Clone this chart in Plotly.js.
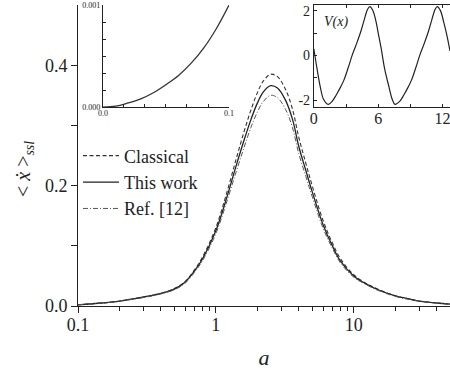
<!DOCTYPE html>
<html><head><meta charset="utf-8">
<script src="https://cdn.plot.ly/plotly-3.0.1.min.js"></script>
<style>html,body{margin:0;padding:0;background:#fff}</style>
</head><body>
<div id="chart" style="width:450px;height:373px"></div>
<script>
// Main curve: drift velocity vs a
var aVals = [0.1,0.15,0.2,0.3,0.4,0.5,0.6,0.7,0.8,1.0,1.2,1.4,1.6,1.8,2.0,2.2,2.5,2.8,3.2,3.6,4.0,4.5,5.0,6.0,7.0,8.0,10,12,15,20,25,30,40,50];
var classical = [0.002,0.005,0.008,0.015,0.021,0.029,0.041,0.060,0.081,0.130,0.188,0.243,0.289,0.326,0.354,0.373,0.385,0.381,0.360,0.327,0.280,0.237,0.200,0.142,0.105,0.079,0.052,0.039,0.028,0.017,0.012,0.008,0.005,0.003];
var thisWork  = [0.002,0.005,0.008,0.015,0.021,0.028,0.040,0.058,0.078,0.125,0.180,0.232,0.275,0.310,0.337,0.355,0.366,0.362,0.342,0.310,0.265,0.225,0.190,0.135,0.100,0.075,0.050,0.038,0.027,0.017,0.012,0.008,0.005,0.003];
var ref12     = [0.002,0.005,0.008,0.014,0.020,0.027,0.038,0.056,0.075,0.120,0.173,0.222,0.263,0.297,0.322,0.339,0.350,0.346,0.327,0.296,0.253,0.215,0.182,0.129,0.096,0.072,0.048,0.037,0.026,0.016,0.011,0.008,0.005,0.003];
var seriesNames = ["Classical","This work","Ref. [12]"];

// Inset 1 (small-a behaviour)
var inset1X = [0,0.01,0.02,0.03,0.04,0.05,0.06,0.07,0.08,0.09,0.1];
var inset1Y = [0,0.000008,0.00004,0.00008,0.00014,0.00022,0.00031,0.00043,0.00058,0.00077,0.001];

// Inset 2 (potential V(x))
var potX = [0,0.3,0.6,0.9,1.34,1.7,2.1,2.5,2.8,3.2,3.6,4.0,4.4,4.7,5.0,5.22,5.5,5.8,6.0,6.28,6.6,7.0,7.3,7.56,8.0,8.4,8.8,9.1,9.5,9.9,10.3,10.7,11.0,11.3,11.5,11.8,12.1,12.4,12.69];
var potV = [0.3,-0.6,-1.4,-1.95,-2.18,-2.05,-1.75,-1.4,-1.1,-0.55,0.05,0.55,1.1,1.6,2.05,2.18,2.0,1.5,1.0,0.3,-0.6,-1.4,-1.95,-2.18,-2.05,-1.75,-1.4,-1.1,-0.55,0.05,0.55,1.1,1.6,2.05,2.18,2.0,1.5,0.9,0.2];

var xTickVals = [0.1,1,10];
var xTickText = ["0.1","1","10"];
var xMinor = [0.2,0.3,0.4,0.5,0.6,0.7,0.8,0.9,2,3,4,5,6,7,8,9,20,30,40];
var yTickVals = [0,0.2,0.4];
var yTickText = ["0.0","0.2","0.4"];
var yMinor = [0.1,0.3];

var serif = "Liberation Serif";
var ink = "#222";

var traces = [
  {x:aVals, y:classical, name:seriesNames[0], type:"scatter", mode:"lines",
   line:{color:"#333", width:1.1, dash:"4px,2.5px", shape:"spline", smoothing:1}},
  {x:aVals, y:thisWork, name:seriesNames[1], type:"scatter", mode:"lines",
   line:{color:"#222", width:1.3, shape:"spline", smoothing:1}},
  {x:aVals, y:ref12, name:seriesNames[2], type:"scatter", mode:"lines",
   line:{color:"#555", width:1, dash:"5px,2px,1px,2px", shape:"spline", smoothing:1}},
  {x:inset1X, y:inset1Y, xaxis:"x2", yaxis:"y2", type:"scatter", mode:"lines", showlegend:false,
   line:{color:"#333", width:1.3, shape:"spline"}},
  {x:potX, y:potV, xaxis:"x3", yaxis:"y3", type:"scatter", mode:"lines", showlegend:false,
   line:{color:"#222", width:1.2, shape:"spline", smoothing:1}}
];

var inset1Ticks = [0,0.1/6,0.2/6,0.3/6,0.4/6,0.5/6,0.1];
var inset1TickText = ["0.0"," "," "," "," "," ","0.1"];
var inset1YTicks = [0,0.001/6,0.002/6,0.003/6,0.004/6,0.005/6,0.001];
var inset1YText = ["0.000"," "," "," "," "," ","0.001"];

var layout = {
  width:450, height:373,
  margin:{l:78, r:0, t:5, b:67},
  paper_bgcolor:"#fff", plot_bgcolor:"rgba(0,0,0,0)",
  font:{family:serif, color:ink, size:17},
  showlegend:true,
  legend:{x:0.0, y:0.56, xanchor:"left", yanchor:"top", bgcolor:"rgba(0,0,0,0)",
          font:{family:serif, size:18, color:ink}, tracegroupgap:0, itemwidth:36},
  xaxis:{type:"log", range:[-1, Math.log10(50)], showgrid:false, zeroline:false,
         showline:true, linecolor:ink, linewidth:1, ticks:"outside", ticklen:6, tickcolor:ink,
         tickmode:"array", tickvals:xTickVals, ticktext:xTickText, ticklabelstandoff:-4,
         minor:{tickmode:"array", tickvals:xMinor, ticks:"outside", ticklen:4, tickcolor:ink},
         tickfont:{family:serif, size:18, color:ink}, domain:[0,1],
         title:{text:"<i>a</i>", font:{family:serif, size:22, color:ink}, standoff:16}},
  yaxis:{range:[0,0.5], showgrid:false, zeroline:false, showline:true, linecolor:ink, linewidth:1,
         ticks:"outside", ticklen:6, tickcolor:ink, tickmode:"array", tickvals:yTickVals, ticktext:yTickText,
         minor:{tickmode:"array", tickvals:yMinor, ticks:"outside", ticklen:6, tickcolor:ink},
         tickfont:{family:serif, size:18, color:ink}, domain:[0,1]},
  xaxis2:{domain:[0.067,0.406], anchor:"y2", range:[0,0.1], showgrid:false, zeroline:false,
          showline:true, linecolor:ink, linewidth:1, ticks:"inside", ticklen:3, tickcolor:ink,
          tickmode:"array", tickvals:inset1Ticks, ticktext:inset1TickText, ticklabelstandoff:-2,
          tickfont:{family:serif, size:8, color:ink}},
  yaxis2:{domain:[0.661,1], anchor:"x2", range:[0,0.001], showgrid:false, zeroline:false,
          showline:true, linecolor:ink, linewidth:1, ticks:"inside", ticklen:3, tickcolor:ink,
          tickmode:"array", tickvals:inset1YTicks, ticktext:inset1YText,
          tickfont:{family:serif, size:8, color:ink}},
  xaxis3:{domain:[0.634,1], anchor:"y3", range:[0,12.69], showgrid:false, zeroline:false,
          showline:true, mirror:"ticks", linecolor:ink, linewidth:1, ticks:"inside", ticklen:3, tickcolor:ink,
          tickmode:"array", tickvals:[0,3,6,9,12], ticktext:["0"," ","6"," ","12"], ticklabelstandoff:-3,
          ticklabeloverflow:"allow", tickfont:{family:serif, size:16, color:ink}},
  yaxis3:{domain:[0.661,1], anchor:"x3", range:[-2.3,2.25], showgrid:false, zeroline:false,
          showline:true, linecolor:ink, linewidth:1, ticks:"inside", ticklen:3, tickcolor:ink,
          tickmode:"array", tickvals:[-2,-1,0,1,2], ticktext:["-2"," ","0"," ","2"],
          tickfont:{family:serif, size:14, color:ink}},
  annotations:[
    {xref:"x3", yref:"y3", x:0.8, y:1.5, xanchor:"left", yanchor:"middle",
     text:"<i>V(x)</i>", showarrow:false, font:{family:serif, size:14, color:ink}},
    {xref:"paper", yref:"paper", x:0, y:0.455, xanchor:"center", yanchor:"middle", xshift:-54,
     textangle:-90, showarrow:false,
     text:"< <i>x\u0307</i> ><sub><i>ssl</i></sub>", font:{family:serif, size:20, color:ink}}
  ]
};

Plotly.newPlot("chart", traces, layout, {displayModeBar:false, staticPlot:true});
</script>
</body></html>
